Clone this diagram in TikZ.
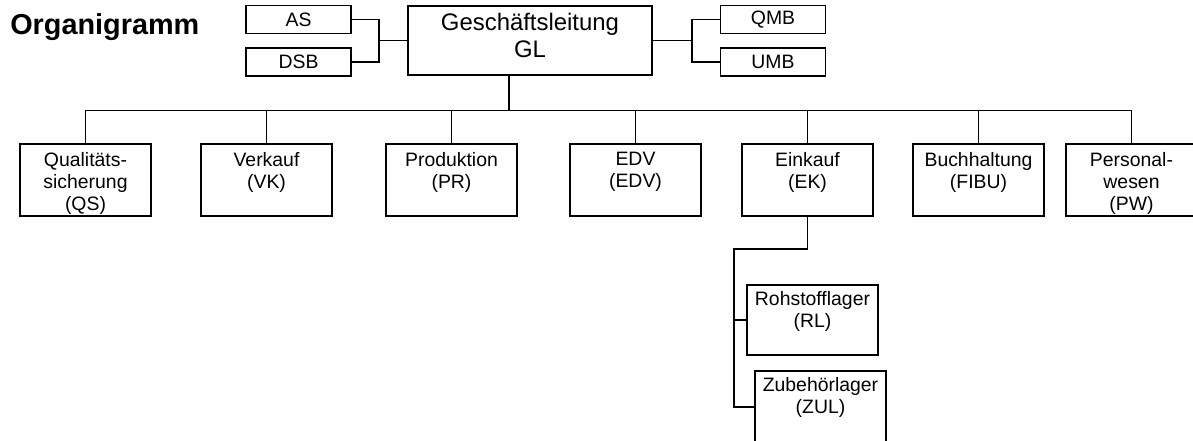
\documentclass[tikz,border=0pt]{standalone}
\usepackage{fontspec}
\setmainfont{Liberation Sans}
\tikzstyle{bx}=[draw=black,line width=1pt,outer sep=0pt,inner sep=0pt]
\tikzstyle{sm}=[bx,minimum width=2.625cm,minimum height=0.69cm,font=\fontsize{13.8}{15.8}\selectfont]
\tikzstyle{glbox}=[bx,minimum width=6.1cm,minimum height=1.725cm]
\tikzstyle{ab}=[bx,minimum width=3.275cm,minimum height=1.8cm]
\tikzstyle{lg}=[bx,minimum width=3.275cm,minimum height=1.75cm]
\tikzstyle{tx}=[anchor=north,inner sep=0pt,align=center,font=\fontsize{13.8}{15.8}\selectfont]
\tikzstyle{ln}=[line width=1pt]

\begin{document}
\begin{tikzpicture}[x=0.025cm,y=-0.025cm]
\useasboundingbox (0,0) rectangle (1193,441);
\node[anchor=base west,inner sep=0pt,font=\fontsize{20.5}{24}\selectfont\bfseries] (title) at (10,34.5) {Organigramm};
\node[sm] (as) at (298.5,19.5) {AS};
\node[sm] (dsb) at (298.5,62) {DSB};
\node[glbox] (gl) at (530,40.5) {};
\node[tx,font=\fontsize{17}{19.2}\selectfont] (glt) at (530,12.5) {Geschäftsleitung\\GL};
\node[sm] (qmb) at (773,19.5) {QMB};
\node[sm] (umb) at (773,62) {UMB};
\node[ab] (qs) at (85.5,180) {}; \node[tx] (qst) at (85.5,152) {Qualitäts-\\sicherung\\(QS)};
\node[ab] (vk) at (266.5,180) {}; \node[tx] (vkt) at (266.5,152) {Verkauf\\(VK)};
\node[ab] (pr) at (451.5,180) {}; \node[tx] (prt) at (451.5,152) {Produktion\\(PR)};
\node[ab] (edv) at (635.5,180) {}; \node[tx] (edvt) at (635.5,152) {EDV\\(EDV)};
\node[ab] (ek) at (807.5,180) {}; \node[tx] (ekt) at (807.5,152) {Einkauf\\(EK)};
\node[ab] (fibu) at (978.5,180) {}; \node[tx] (fibut) at (978.5,152) {Buchhaltung\\(FIBU)};
\node[ab] (pw) at (1131.5,180) {}; \node[tx] (pwt) at (1131.5,152) {Personal-\\wesen\\(PW)};
\node[lg] (rl) at (812.5,320) {}; \node[tx] (rlt) at (812.5,291) {Rohstofflager\\(RL)};
\node[lg,minimum height=1.8cm] (zul) at (820.5,407) {}; \node[tx] (zult) at (820.5,377) {Zubehörlager\\(ZUL)};
\coordinate (lj) at (379,40.5);
\coordinate (rj) at (692,40.5);
\coordinate (bus) at (509,110.7);
\coordinate (ej) at (734,249);
\draw[ln] (as.east) -| (lj) |- (dsb.east);
\draw[ln] (lj) -- (gl.west);
\draw[ln] (qmb.west) -| (rj) |- (umb.west);
\draw[ln] (rj) -- (gl.east);
\draw[ln] (gl.south -| bus) -- (bus);
\draw[ln] (qs.north) |- (bus) -| (pw.north);
\foreach \d in {vk,pr,edv,ek,fibu} \draw[ln] (\d.north) -- (\d.north |- bus);
\draw[ln] (ek.south) |- (ej) |- (zul.west);
\draw[ln] (ej |- rl.west) -- (rl.west);
\end{tikzpicture}
\end{document}
